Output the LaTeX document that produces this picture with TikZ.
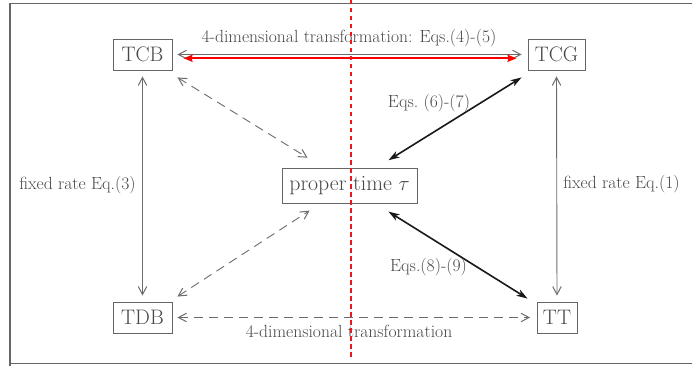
\documentclass[tikz,border=0pt]{standalone}
\usetikzlibrary{arrows.meta}
\tikzset{
  gtip/.tip={Straight Barb[length=8pt,width=8.5pt,line width=1pt]},
  btip/.tip={Stealth[length=11pt,width=7pt,inset=3pt]},
  rtip/.tip={Stealth[length=9pt,width=7pt,inset=1pt]},
}
\definecolor{vred}{RGB}{235,25,25}
\begin{document}
\begin{tikzpicture}[x=1pt,y=-1pt,
  box/.style={draw=black!60, line width=0.9pt, text=black!72, font=\fontsize{21}{24}\selectfont, inner sep=0pt, minimum height=31pt},
  lbl/.style={text=black!72, font=\fontsize{17.6}{20}\selectfont, inner sep=0pt},
  gline/.style={draw=black!58, line width=0.9pt, {gtip}-{gtip}},
  gdash/.style={gline, dash pattern=on 9pt off 6pt},
  bline/.style={draw=black!90, line width=1.6pt, {btip}-{btip}},
  rline/.style={draw=red, line width=2pt, {rtip}-{rtip}},
  vline/.style={draw=vred, line width=1.2pt, dash pattern=on 4.5pt off 3.5pt},
]
\useasboundingbox (0,0) rectangle (692,366);
% outer frame
\draw[black!60, line width=1.5pt] (10,700) -- (10,3.5) -- (710,3.5);
\draw[black!60, line width=1.5pt] (10,363.5) -- (710,363.5);

% nodes
\node[box, minimum width=59pt] (TCB) at (142.5,54.5) {TCB};
\node[box, minimum width=57pt] (TCG) at (556.5,54.5) {TCG};
\node[box, minimum width=59pt] (TDB) at (142.5,317.5) {TDB};
\node[box, minimum width=40pt] (TT) at (557,317.5) {TT};
\node[box, minimum width=135pt, minimum height=35pt, font=\fontsize{21.8}{24}\selectfont] (PT) at (349.5,185.7) {proper time $\tau$};

% top connectors
\draw[gline, shorten <=5pt, shorten >=6pt] (TCB.east) -- (TCG.west);
\draw[rline, shorten <=11pt, shorten >=11pt] ([yshift=-3.8pt]TCB.east) -- ([yshift=-3.8pt]TCG.west);
\node[lbl] (ltop) at (349,38.3) {4-dimensional transformation: Eqs.(4)-(5)};

% verticals
\draw[gline, shorten <=6pt, shorten >=6pt] (TCB.south) -- (TDB.north);
\node[lbl] (lleft) at (77.5,185) {fixed rate Eq.(3)};
\draw[gline, shorten <=6pt, shorten >=6pt] (TCG.south) -- (TT.north);
\node[lbl] (lright) at (621.5,184) {fixed rate Eq.(1)};

% bottom
\draw[gdash, shorten <=5pt, shorten >=6.5pt] (TDB.east) -- (TT.west);
\node[lbl] (lbot) at (349,331.5) {4-dimensional transformation};

% dashed diagonals
\draw[gdash] ([shift={(5,7)}]TCB.south east) -- ([shift={(26,-10)}]PT.north west);
\draw[gdash] ([shift={(5,-5)}]TDB.north east) -- ([shift={(28,7)}]PT.south west);

% black diagonals
\draw[bline] ([shift={(-29,-7.5)}]PT.north east) -- ([shift={(-6,7)}]TCG.south west);
\node[lbl] (l67) at (429,103) {Eqs.\ (6)-(7)};
\draw[bline] ([shift={(-29,8)}]PT.south east) -- ([shift={(-9,-3)}]TT.north west);
\node[lbl] (l89) at (428.5,267) {Eqs.(8)-(9)};

% red dashed vertical (drawn on top)
\coordinate (vtop) at (351,0);
\coordinate (vbot) at (351,357);
\draw[vline] (vtop) -- (vbot);
\end{tikzpicture}
\end{document}
